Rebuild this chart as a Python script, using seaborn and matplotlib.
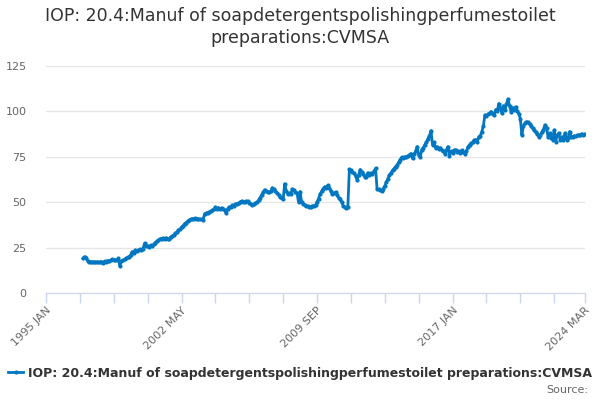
import matplotlib
matplotlib.use('Agg')
import matplotlib.pyplot as plt
import seaborn as sns
import numpy as np
import pandas as pd

title = 'IOP: 20.4:Manuf of soapdetergentspolishingperfumestoilet\npreparations:CVMSA'
series_name = 'IOP: 20.4:Manuf of soapdetergentspolishingperfumestoilet preparations:CVMSA'

# monthly values, 1997 JAN .. 2024 MAR
v1997 = [19.0, 20.0, 19.5, 17.8, 17.3, 17.2, 17.0, 17.2, 16.9, 17.1, 16.8, 17.0]
v1998 = [17.3, 16.6, 17.5, 17.2, 17.8, 17.6, 18.0, 18.5, 18.2, 18.3, 18.0, 19.0]
v1999 = [14.9, 17.7, 18.0, 18.5, 19.0, 19.6, 20.0, 21.0, 22.7, 22.0, 23.6, 23.0]
v2000 = [23.5, 24.0, 23.8, 24.5, 27.3, 25.8, 26.0, 25.5, 26.2, 25.8, 26.8, 27.8]
v2001 = [28.5, 29.0, 29.8, 30.0, 30.2, 29.9, 30.4, 29.6, 30.0, 30.8, 31.3, 32.0]
v2002 = [32.8, 33.6, 34.5, 35.0, 36.3, 37.0, 38.2, 38.8, 39.5, 40.0, 40.5, 40.8]
v2003 = [41.0, 41.1, 40.9, 40.8, 40.6, 40.5, 40.4, 43.6, 43.8, 44.3, 44.6, 45.0]
v2004 = [45.5, 46.0, 47.3, 46.5, 47.0, 46.4, 46.8, 46.0, 45.5, 44.0, 46.5, 47.3]
v2005 = [47.5, 48.2, 48.0, 48.8, 49.2, 49.5, 50.0, 50.6, 50.2, 50.0, 50.6, 50.4]
v2006 = [49.8, 49.2, 48.2, 48.8, 49.5, 50.0, 51.0, 52.5, 54.0, 55.5, 56.8, 56.0]
v2007 = [55.6, 55.5, 56.0, 57.9, 57.0, 56.4, 55.0, 54.0, 52.7, 52.2, 51.8, 60.1]
v2008 = [56.0, 54.6, 55.0, 54.6, 57.3, 56.5, 55.5, 55.0, 50.0, 55.8, 50.0, 49.0]
v2009 = [48.5, 48.0, 47.8, 47.5, 47.2, 48.0, 47.8, 48.4, 50.0, 52.0, 54.5, 56.0]
v2010 = [57.5, 58.5, 58.0, 59.3, 58.0, 56.0, 54.3, 55.0, 55.5, 54.0, 52.5, 51.5]
v2011 = [50.0, 48.0, 47.2, 47.0, 47.5, 68.1, 67.5, 66.5, 66.0, 64.5, 62.3, 65.0]
v2012 = [68.0, 66.5, 65.5, 64.0, 64.0, 66.2, 65.0, 66.0, 65.5, 67.0, 68.6, 57.1]
v2013 = [57.0, 56.5, 56.4, 57.5, 59.0, 61.0, 63.0, 65.0, 66.0, 67.5, 68.5, 69.6]
v2014 = [70.5, 72.0, 73.5, 74.7, 74.5, 75.0, 75.0, 75.5, 76.0, 76.8, 74.1, 76.5]
v2015 = [78.0, 80.6, 76.0, 74.7, 79.0, 80.0, 81.6, 83.0, 85.0, 86.5, 89.4, 81.6]
v2016 = [83.0, 79.8, 80.5, 79.5, 80.0, 78.9, 78.0, 76.7, 78.5, 80.6, 75.6, 78.0]
v2017 = [77.0, 78.5, 78.9, 77.5, 78.0, 77.0, 78.5, 77.5, 76.7, 78.0, 80.5, 81.6]
v2018 = [82.5, 83.0, 84.0, 84.4, 83.0, 86.0, 86.5, 88.9, 92.0, 98.0, 97.5, 98.5]
v2019 = [99.0, 99.9, 98.5, 98.0, 101.0, 100.0, 104.3, 101.6, 99.0, 103.0, 101.0, 104.0]
v2020 = [106.8, 103.0, 99.9, 102.0, 101.0, 102.5, 100.0, 98.8, 96.0, 87.0, 92.0, 93.5]
v2021 = [94.3, 94.0, 93.0, 92.0, 90.7, 89.5, 88.5, 87.5, 86.1, 87.0, 88.5, 90.0]
v2022 = [92.5, 91.0, 86.1, 88.0, 85.5, 84.5, 89.8, 83.4, 87.0, 88.0, 84.0, 86.0]
v2023 = [84.5, 88.0, 84.4, 85.5, 88.9, 86.0, 85.9, 86.5, 86.3, 86.8, 87.0, 86.8]
v2024 = [87.7, 87.0, 87.6]

values = (v1997 + v1998 + v1999 + v2000 + v2001 + v2002 + v2003 + v2004 + v2005
          + v2006 + v2007 + v2008 + v2009 + v2010 + v2011 + v2012 + v2013 + v2014
          + v2015 + v2016 + v2017 + v2018 + v2019 + v2020 + v2021 + v2022 + v2023 + v2024)

tick_labels = ['1995 JAN', '2002 MAY', '2009 SEP', '2017 JAN', '2024 MAR']
y_ticks = [0, 25, 50, 75, 100, 125]

months = pd.date_range('1997-01-01', periods=len(values), freq='MS')
df = pd.DataFrame({
    'pos': (months.year - 1995) * 12 + months.month - 1,
    'value': values,
})

color = '#0077c0'
fig = plt.figure(figsize=(6, 4), dpi=100)
ax = fig.add_axes([46 / 600, 1 - 293 / 400, 539 / 600, 227 / 400])

sns.lineplot(data=df, x='pos', y='value', ax=ax, color=color, linewidth=2,
             marker='o', markersize=3, markeredgewidth=0, label=series_name)

last = 350
ticks = list(range(0, last, 22)) + [last]
ax.set_xlim(0, last)
ax.set_xticks(ticks)
labels = [''] * len(ticks)
for i, lab in zip([0, 4, 8, 12, 16], tick_labels):
    labels[i] = lab
ax.set_xticklabels(labels, rotation=45, ha='right', rotation_mode='anchor',
                   color='#666666', fontsize=8)
ax.tick_params(axis='x', length=7, color='#ccd6eb', width=1, pad=2)

ax.set_ylim(0, 125)
ax.set_yticks(y_ticks)
ax.set_yticklabels([str(t) for t in y_ticks], color='#666666', fontsize=8)
ax.tick_params(axis='y', length=0, pad=14)
ax.grid(axis='y', color='#e6e6e6', linewidth=1)
ax.set_axisbelow(True)

for s in ['top', 'right', 'left']:
    ax.spines[s].set_visible(False)
ax.spines['bottom'].set_color('#ccd6eb')
ax.set_xlabel('')
ax.set_ylabel('')

handles, labs = ax.get_legend_handles_labels()
ax.get_legend().remove()
fig.legend(handles, labs, loc='center', bbox_to_anchor=(0.5, 1 - 373 / 400),
           frameon=False, handlelength=1.2, handletextpad=0.4,
           prop={'weight': 'bold', 'size': 9}, labelcolor='#333333')

fig.suptitle(title, x=0.5, y=1 - 7 / 400, va='top', fontsize=12.5, color='#333333',
             linespacing=1.3)
fig.text(588 / 600, 1 - 390 / 400, 'Source:', ha='right', va='center',
         fontsize=8, color='#666666')

fig.savefig('out.png', dpi=100)
